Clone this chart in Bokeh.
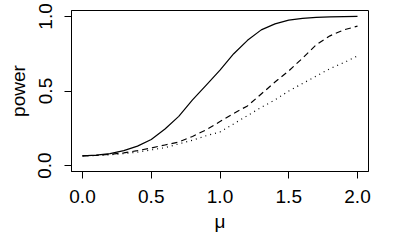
from bokeh.plotting import figure
from bokeh.models import FixedTicker, Range1d
from bokeh.embed import file_html
from bokeh.resources import INLINE

mu = [0.0, 0.1, 0.2, 0.3, 0.4, 0.5, 0.6, 0.7, 0.8, 0.9, 1.0,
      1.1, 1.2, 1.3, 1.4, 1.5, 1.6, 1.7, 1.8, 1.9, 2.0]
power_solid = [0.065, 0.07, 0.08, 0.10, 0.13, 0.175, 0.245, 0.33, 0.44, 0.54, 0.64,
               0.75, 0.84, 0.91, 0.95, 0.975, 0.987, 0.994, 0.997, 0.999, 1.0]
power_dashed = [0.065, 0.068, 0.075, 0.085, 0.10, 0.118, 0.138, 0.158, 0.195, 0.24, 0.295,
                0.35, 0.40, 0.48, 0.56, 0.635, 0.72, 0.81, 0.87, 0.91, 0.935]
power_dotted = [0.065, 0.067, 0.072, 0.08, 0.09, 0.105, 0.12, 0.145, 0.17, 0.20, 0.225,
                0.28, 0.335, 0.39, 0.44, 0.50, 0.55, 0.60, 0.65, 0.69, 0.735]
x_ticks = [0.0, 0.5, 1.0, 1.5, 2.0]
x_tick_labels = ["0.0", "0.5", "1.0", "1.5", "2.0"]
y_ticks = [0.0, 0.5, 1.0]
y_tick_labels = ["0.0", "0.5", "1.0"]

FONT = "Liberation Sans"

p = figure(width=384, height=234, output_backend="svg", toolbar_location=None,
           x_range=Range1d(-0.08, 2.08), y_range=Range1d(-0.04, 1.04),
           min_border_left=71, min_border_right=16, min_border_top=10, min_border_bottom=62,
           background_fill_color="white", border_fill_color="white")
p.outline_line_color = "black"
p.outline_line_width = 1
p.grid.visible = False

p.line(mu, power_solid, line_color="black", line_width=1.2)
p.line(mu, power_dashed, line_color="black", line_width=1.2, line_dash="6 4")
p.line(mu, power_dotted, line_color="black", line_width=1.2, line_dash="1 4")

for ax, ticks, labels in ((p.xaxis, x_ticks, x_tick_labels), (p.yaxis, y_ticks, y_tick_labels)):
    ax.ticker = FixedTicker(ticks=ticks)
    ax.major_label_overrides = {t: l for t, l in zip(ticks, labels)}
    ax.minor_tick_line_color = None
    ax.major_tick_in = 0
    ax.major_tick_out = 7
    ax.major_tick_line_color = "black"
    ax.axis_line_color = "black"
    ax.major_label_text_font = FONT
    ax.major_label_text_font_size = "19px"
    ax.major_label_text_color = "black"
    ax.axis_label_text_font = FONT
    ax.axis_label_text_font_size = "19px"
    ax.axis_label_text_font_style = "normal"
    ax.axis_label_text_color = "black"

p.xaxis.axis_label = "μ"
p.yaxis.axis_label = "power"
p.yaxis.major_label_orientation = "vertical"
p.xaxis.major_label_standoff = 11
p.yaxis.major_label_standoff = 13
p.xaxis.axis_label_standoff = 5
p.yaxis.axis_label_standoff = 7

open("out.html", "w").write(file_html(p, INLINE))
